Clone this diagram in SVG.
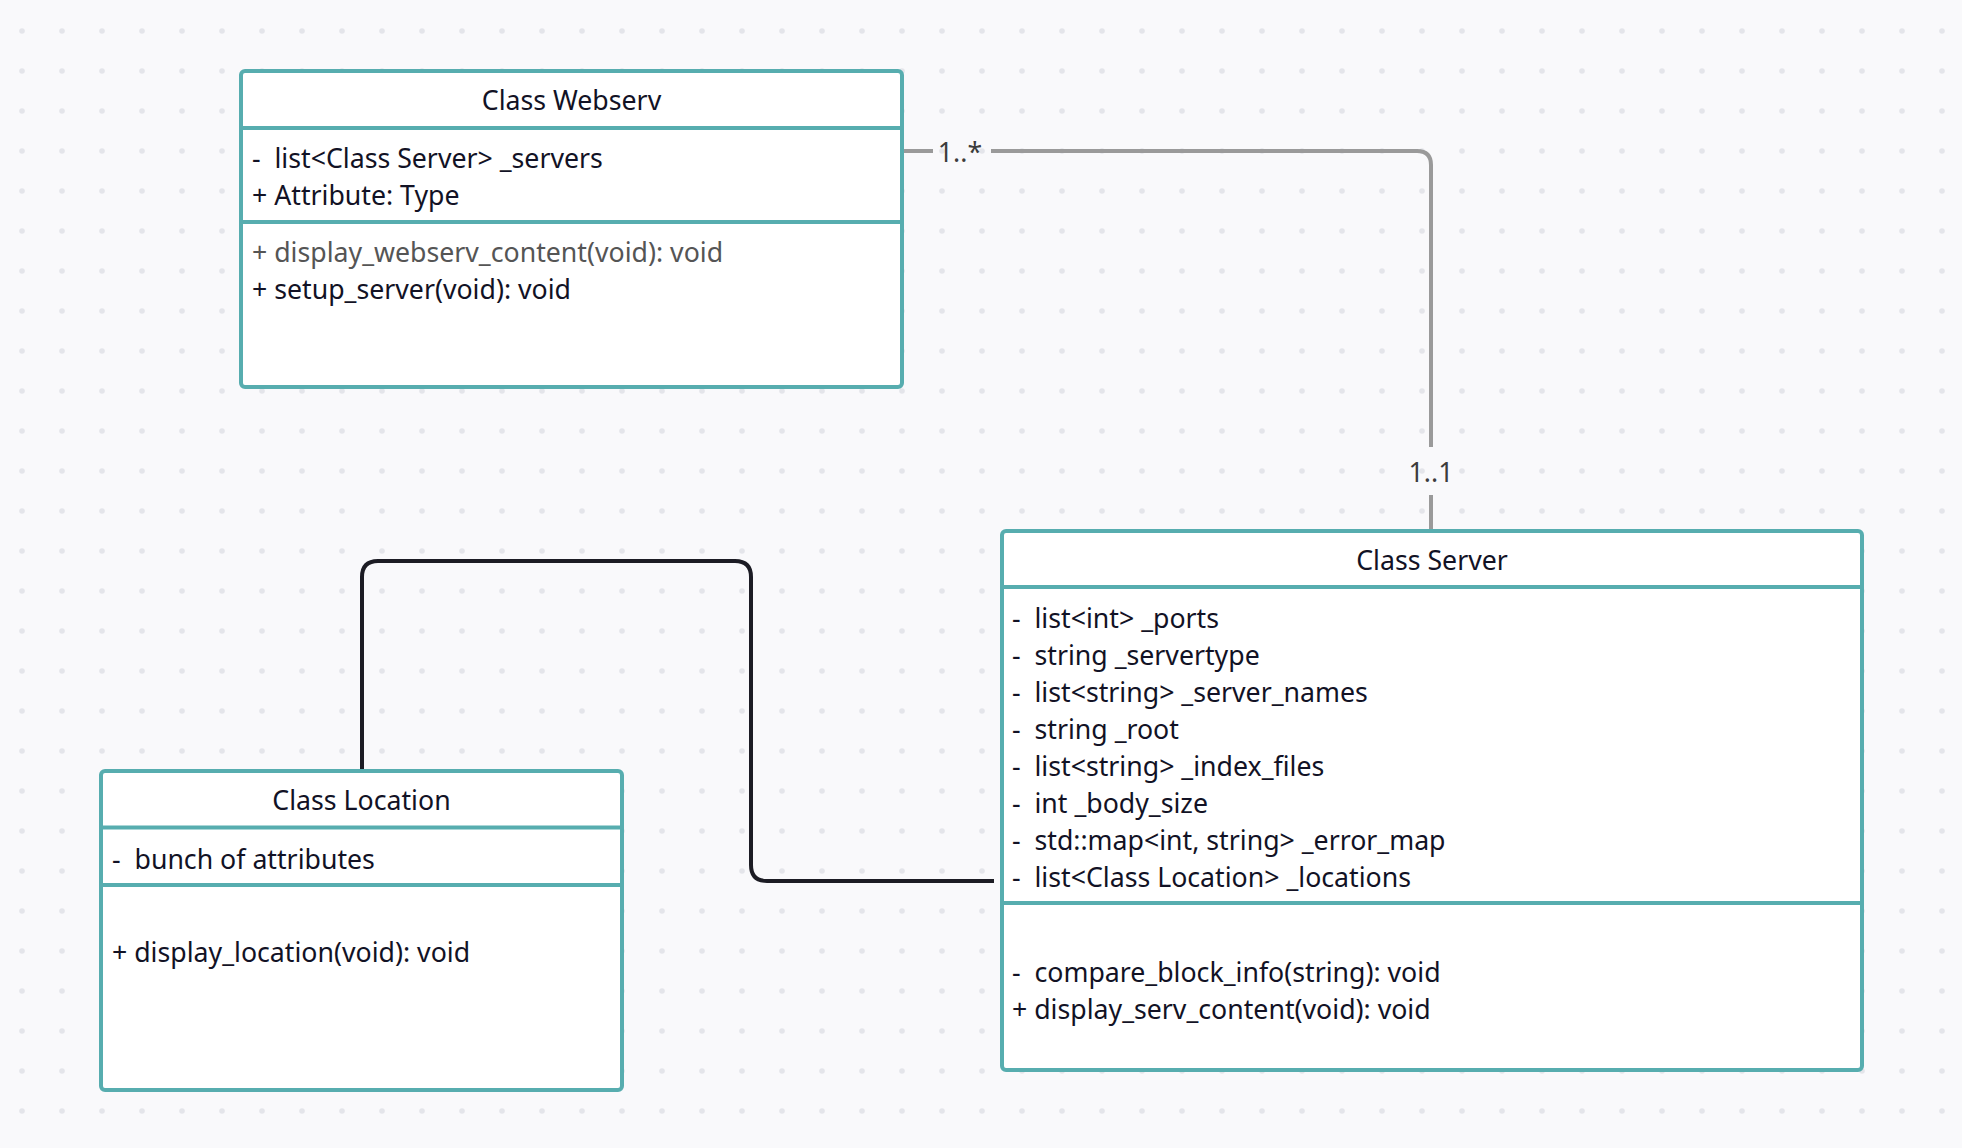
<svg xmlns="http://www.w3.org/2000/svg" width="1962" height="1148" viewBox="0 0 1962 1148">
<defs>
<pattern id="dots" x="2" y="11" width="40" height="40" patternUnits="userSpaceOnUse"><circle cx="20" cy="20" r="2.8" fill="#e4e5ea"/></pattern>
<style>
.box{fill:#ffffff;stroke:#57adaf;stroke-width:4}
.sep{stroke:#57adaf;stroke-width:4}
.t{font-family:"Noto Sans","Open Sans",sans-serif;font-size:26.7px;fill:#121225;white-space:pre}
.title{text-anchor:middle}
.gray{fill:#555555}
.lbl{font-family:"Noto Sans","Open Sans",sans-serif;font-size:26.7px;fill:#3c3c3c;text-anchor:middle}
.assoc{fill:none;stroke:#9a9a9a;stroke-width:4}
.comp{fill:none;stroke:#1c1c24;stroke-width:4}
</style>
</defs>
<rect width="1962" height="1148" fill="#f9f9fb"/>
<rect width="1962" height="1148" fill="url(#dots)"/>
<g id="connectors">
<path class="assoc" d="M902,151 H933"/>
<path class="assoc" d="M991,151 H1417 Q1431,151 1431,165 V447"/>
<path class="assoc" d="M1431,495 V531"/>
<text class="lbl" x="960" y="161.5">1..*</text>
<text class="lbl" x="1431" y="481.5">1..1</text>
<path class="comp" d="M362,771 V577 Q362,561 378,561 H735 Q751,561 751,577 V865 Q751,881 767,881 H994"/>
</g>
<g id="class-webserv">
<rect class="box" x="241" y="71" width="661" height="316" rx="4"/>
<line class="sep" x1="241" y1="128" x2="902" y2="128"/>
<line class="sep" x1="241" y1="222" x2="902" y2="222"/>
<text class="t title" x="571.5" y="110">Class Webserv</text>
<text class="t" x="252" y="168.2">-  list&lt;Class Server&gt; _servers</text>
<text class="t" x="252" y="205.2">+ Attribute: Type</text>
<text class="t gray" x="252" y="262.2">+ display_webserv_content(void): void</text>
<text class="t" x="252" y="299.2">+ setup_server(void): void</text>
</g>
<g id="class-server">
<rect class="box" x="1002" y="531" width="860" height="539" rx="4"/>
<line class="sep" x1="1002" y1="587" x2="1862" y2="587"/>
<line class="sep" x1="1002" y1="903" x2="1862" y2="903"/>
<text class="t title" x="1432" y="570">Class Server</text>
<text class="t" x="1012" y="628.2">-  list&lt;int&gt; _ports</text>
<text class="t" x="1012" y="665.2">-  string _servertype</text>
<text class="t" x="1012" y="702.2">-  list&lt;string&gt; _server_names</text>
<text class="t" x="1012" y="739.2">-  string _root</text>
<text class="t" x="1012" y="776.2">-  list&lt;string&gt; _index_files</text>
<text class="t" x="1012" y="813.2">-  int _body_size</text>
<text class="t" x="1012" y="850.2">-  std::map&lt;int, string&gt; _error_map</text>
<text class="t" x="1012" y="887.2">-  list&lt;Class Location&gt; _locations</text>
<text class="t" x="1012" y="982">-  compare_block_info(string): void</text>
<text class="t" x="1012" y="1019">+ display_serv_content(void): void</text>
</g>
<g id="class-location">
<rect class="box" x="101" y="771" width="521" height="319" rx="4"/>
<line class="sep" x1="101" y1="827.5" x2="622" y2="827.5"/>
<line class="sep" x1="101" y1="885" x2="622" y2="885"/>
<text class="t title" x="361.5" y="810">Class Location</text>
<text class="t" x="112" y="868.5">-  bunch of attributes</text>
<text class="t" x="112" y="962">+ display_location(void): void</text>
</g>
</svg>
